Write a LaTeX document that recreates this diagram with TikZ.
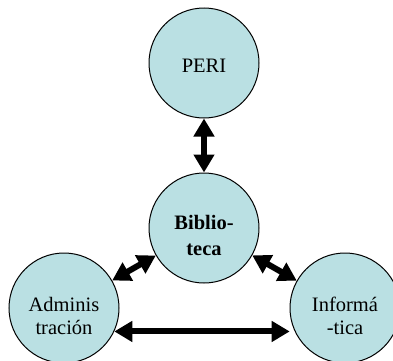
\documentclass[tikz,border=0pt]{standalone}
\usepackage{fontspec}
\setmainfont{Liberation Serif}
\usetikzlibrary{arrows.meta}
\definecolor{cfill}{RGB}{186,224,227}
\begin{document}
\begin{tikzpicture}[x=1pt,y=1pt,
  unit/.style={circle,draw=black,line width=1pt,fill=cfill,minimum size=110pt,inner sep=0pt},
  txt/.style={align=center,inner sep=0pt,font=\fontsize{20.5}{23.5}\selectfont},
  btxt/.style={align=center,inner sep=0pt,font=\fontsize{20.5}{26}\selectfont\bfseries},
  link/.style={line width=6pt,{Triangle[length=18pt,width=20pt]}-{Triangle[length=18pt,width=20pt]}}]
\useasboundingbox (0,0) rectangle (393,360);
\node[unit] (peri) at (204,297) {};
\node[unit] (bib) at (204,132) {};
\node[unit] (adm) at (64,52) {};
\node[unit] (inf) at (345,52) {};
\node[txt] (perit) at ([yshift=-3pt]peri.center) {PERI};
\node[btxt] (bibt) at ([yshift=-7pt]bib.center) {Biblio-\\teca};
\node[txt] (admt) at ([yshift=-8pt]adm.center) {Adminis\\tración};
\node[txt] (inft) at ([yshift=-8pt]inf.center) {Informá\\-tica};
\draw[link] (peri) -- (bib);
\draw[link] (bib) -- (adm);
\draw[link] (bib) -- (inf);
\draw[link,shorten >=5pt] (adm.-25) -- (inf.205);
\end{tikzpicture}
\end{document}
